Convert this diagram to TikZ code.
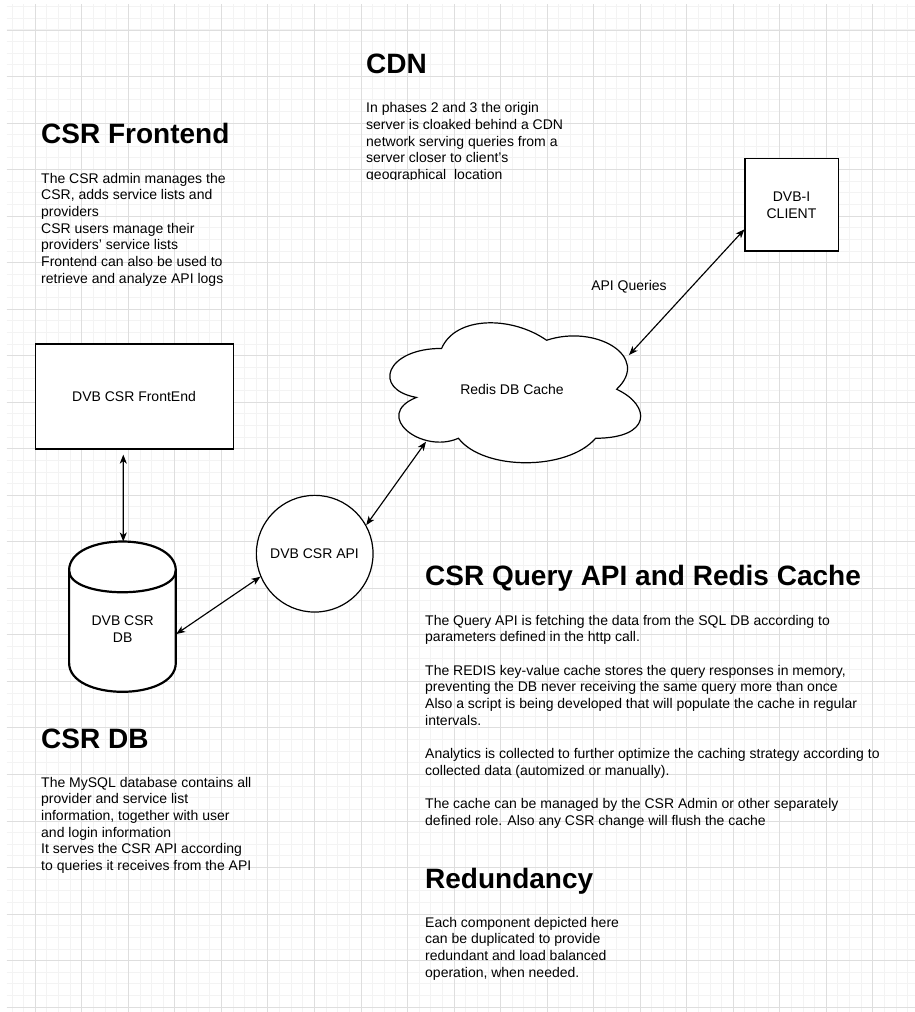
\documentclass[tikz,border=0pt]{standalone}
\usepackage{fontspec}
\setmainfont{Liberation Sans}
\usetikzlibrary{arrows.meta,calc}
\newcommand{\blocktext}[1]{\begin{tabular}[t]{@{}l@{}}#1\end{tabular}}
\newcommand{\centertext}[1]{\begin{tabular}[t]{@{}c@{}}#1\end{tabular}}
\definecolor{gridmajor}{RGB}{222,222,222}
\definecolor{gridminor}{RGB}{243,243,243}
\tikzset{
  heading/.style={anchor=base west, inner sep=0pt, font=\fontsize{28}{33.6}\selectfont\bfseries},
  body/.style={anchor=base west, inner sep=0pt, font=\fontsize{14}{16.67}\selectfont},
  label/.style={anchor=base, inner sep=0pt, font=\fontsize{14}{16.67}\selectfont},
  boxnode/.style={draw=black, fill=white, line width=1.2pt, inner sep=0pt},
  link/.style={line width=1.15pt, {Stealth[length=9pt,width=7pt,inset=2.5pt]}-{Stealth[length=9pt,width=7pt,inset=2.5pt]}},
  minorline/.style={gridminor, line width=1pt},
  majorline/.style={gridmajor, line width=1pt},
}
\begin{document}
\begin{tikzpicture}[x=1pt,y=-1pt]
\useasboundingbox (0,0) rectangle (915,1012);
\fill[white] (0,0) rectangle (915,1012);
% grid
\foreach \i in {0,...,77} \draw[minorline] ({12.04+11.633*\i},4) -- (12.04+11.633*\i,1012);
\foreach \j in {0,...,86} \draw[minorline] (6.7,{6.73+11.633*\j}) -- (915,6.73+11.633*\j);
\foreach \i in {0,...,18} \draw[majorline] ({35.3+46.53*\i},4) -- (35.3+46.53*\i,1012);
\foreach \j in {0,...,21} \draw[majorline] (6.7,{30+46.53*\j}) -- (915,30+46.53*\j);

% text blocks
\node[heading] (hcdn) at (366,73.3) {CDN};
\begin{scope}
\clip (360,90) rectangle (640,179.2);
\node[body] (tcdn) at (366,112.7) {\blocktext{In phases 2 and 3 the origin\\server is cloaked behind a CDN\\network serving queries from a\\server closer to client's\\geographical\ \ location}};
\end{scope}

\node[heading] (hfe) at (41,143.3) {CSR Frontend};
\node[body] (tfe) at (41,183.3) {\blocktext{The CSR admin manages the\\CSR, adds service lists and\\providers\\CSR users manage their\\providers' service lists\\Frontend can also be used to\\retrieve and analyze API logs}};

\node[heading] (hq) at (425,585) {CSR Query API and Redis Cache};
\node[body] (tq) at (425,625) {\blocktext{The Query API is fetching the data from the SQL DB according to\\parameters defined in the http call.\\ \\The REDIS key-value cache stores the query responses in memory,\\preventing the DB never receiving the same query more than once\\Also a script is being developed that will populate the cache in regular\\intervals.\\ \\Analytics is collected to further optimize the caching strategy according to\\collected data (automized or manually).\\ \\The cache can be managed by the CSR Admin or other separately\\defined role. Also any CSR change will flush the cache}};

\node[heading] (hdb) at (41,748.3) {CSR DB};
\node[body] (tdb) at (41,787.3) {\blocktext{The MySQL database contains all\\provider and service list\\information, together with user\\and login information\\It serves the CSR API according\\to queries it receives from the API}};

\node[heading] (hred) at (425,888.3) {Redundancy};
\node[body] (tred) at (425,927.3) {\blocktext{Each component depicted here\\can be duplicated to provide\\redundant and load balanced\\operation, when needed.}};

% shapes
\node[boxnode, minimum width=198pt, minimum height=105pt] (fe) at (134.3,396.5) {};
\node[label] (fetext) at (134,401) {DVB CSR FrontEnd};

\node[boxnode, minimum width=93.3pt, minimum height=92.7pt] (client) at (791.7,204.7) {};
\node[label] (clienttext) at (791.5,201.7) {\centertext{DVB-I\\CLIENT}};

\node[boxnode, circle, minimum size=116.7pt] (api) at (314.7,553.7) {};
\node[label] (apitext) at (314.5,558) {DVB CSR API};

% cylinder DB
\node[inner sep=0pt, minimum width=106.7pt, minimum height=150.3pt] (db) at (122.65,616.85) {};
\draw[line width=2.2pt, fill=white, shift={(db.north west)}]
  (0,29) .. controls (0,-9.67) and (106.7,-9.67) .. (106.7,29) -- (106.7,121.3)
  .. controls (106.7,159.97) and (0,159.97) .. (0,121.3) -- cycle;
\draw[line width=2.2pt, shift={(db.north west)}]
  (0,29) .. controls (0,58) and (106.7,58) .. (106.7,29);
\node[label] (dbtext) at (122.7,625.5) {\centertext{DVB CSR\\DB}};

% cloud
\node[inner sep=0pt, minimum width=280pt, minimum height=163.3pt] (cloud) at (511.8,389.45) {};
\draw[line width=1.2pt, fill=white, shift={(cloud.north west)}, x=280pt, y=-163.3pt]
  (0.25,0.25) .. controls (0.05,0.25) and (0,0.5) .. (0.16,0.55)
  .. controls (0,0.66) and (0.18,0.9) .. (0.31,0.8)
  .. controls (0.4,1) and (0.7,1) .. (0.8,0.8)
  .. controls (1,0.8) and (1,0.6) .. (0.875,0.5)
  .. controls (1,0.3) and (0.8,0.1) .. (0.625,0.2)
  .. controls (0.5,0.05) and (0.3,0.05) .. (0.25,0.25) -- cycle;
\node[label] (cloudtext) at (512,394) {Redis DB Cache};
\coordinate (cloudNE) at (629,355);
\coordinate (cloudSW) at (426,441.7);

\node[label] (apiq) at (629,290) {API Queries};

% connectors
\draw[link] ([yshift=-24.6pt]client.west) -- (cloudNE);
\draw[link] (api.29.5) -- (cloudSW);
\draw[link] (api.203.5) -- ([yshift=-17.2pt]db.east);
\draw[link] ([xshift=-11pt,yshift=-5pt]fe.south) -- ([xshift=0.6pt]db.north);
\end{tikzpicture}
\end{document}
